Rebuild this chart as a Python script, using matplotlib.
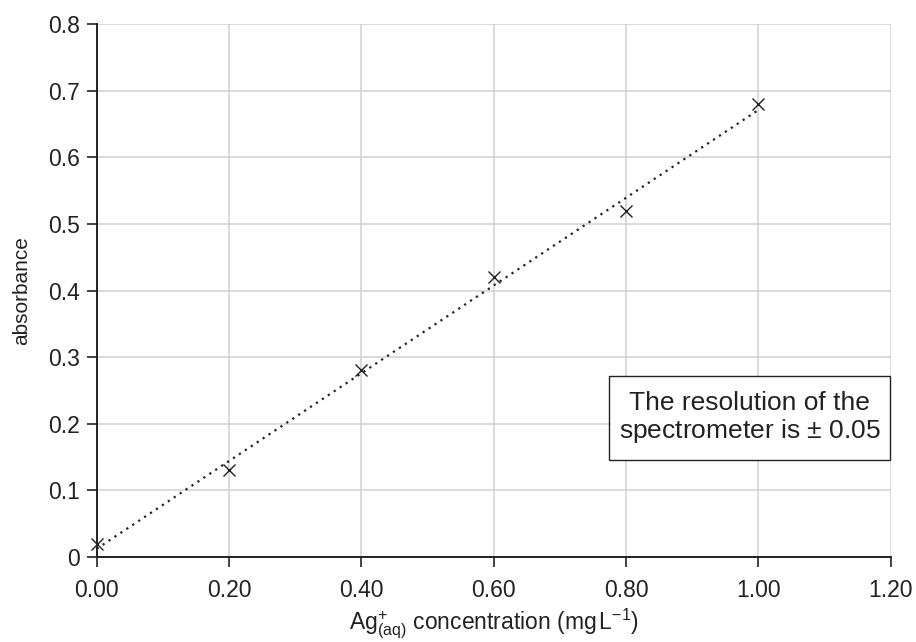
import numpy as np
import matplotlib
matplotlib.use("Agg")
import matplotlib.pyplot as plt
from matplotlib.patches import Rectangle

# Kalibrierdaten
conc = [0.00, 0.20, 0.40, 0.60, 0.80, 1.00]
absorb = [0.02, 0.13, 0.28, 0.42, 0.52, 0.68]
x_ticks = [0.0, 0.2, 0.4, 0.6, 0.8, 1.0, 1.2]
x_labels = ["0.00", "0.20", "0.40", "0.60", "0.80", "1.00", "1.20"]
y_ticks = [0, 0.1, 0.2, 0.3, 0.4, 0.5, 0.6, 0.7, 0.8]
y_labels = ["0", "0.1", "0.2", "0.3", "0.4", "0.5", "0.6", "0.7", "0.8"]

plt.rcParams["font.family"] = ["Liberation Sans", "DejaVu Sans"]
plt.rcParams["mathtext.fontset"] = "custom"
plt.rcParams["mathtext.rm"] = "Liberation Sans"
plt.rcParams["mathtext.it"] = "Liberation Sans:italic"

fig = plt.figure(figsize=(9.16, 6.42), dpi=100)
ax = fig.add_axes([0.1056, 0.1324, 0.8668, 0.8302])

# Trendlinie (lineare Regression)
slope, icpt = np.polyfit(conc, absorb, 1)
xl = np.array([conc[0], conc[-1]])
ax.plot(xl, slope * xl + icpt, linestyle=(0, (1, 2.2)), color="#222222", linewidth=1.6)

ax.plot(conc, absorb, linestyle="none", marker="x", markersize=9,
        markeredgewidth=1.0, color="#222222", clip_on=False, zorder=5)

ax.set_xlim(0, 1.2)
ax.set_ylim(0, 0.8)
ax.set_xticks(x_ticks)
ax.set_xticklabels(x_labels)
ax.set_yticks(y_ticks)
ax.set_yticklabels(y_labels)
ax.tick_params(labelsize=16.5, colors="#222222", length=7, width=1.2, direction="out")
ax.tick_params(axis="x", pad=9)
ax.tick_params(axis="y", pad=5)

ax.grid(True, color="#d4d4d4", linewidth=1.2)
ax.set_axisbelow(True)
for s in ["top", "right"]:
    ax.spines[s].set_visible(False)
for s in ["left", "bottom"]:
    ax.spines[s].set_linewidth(1.4)
    ax.spines[s].set_color("#222222")

ax.set_xlabel(r"Ag$^{+}_{\rm (aq)}$ concentration (mg$\,$L$^{-1}$)", fontsize=16.5,
              color="#222222", labelpad=3)
ax.set_ylabel("absorbance", fontsize=15, color="#222222", labelpad=12)

# Hinweisbox
ax.add_patch(Rectangle((0.6453, 0.182), 0.354, 0.1576, transform=ax.transAxes,
                       facecolor="white", edgecolor="#222222", linewidth=1.0,
                       zorder=6, clip_on=False))
ax.text(0.8225, 0.2608, "The resolution of the\nspectrometer is $\\pm$ 0.05",
        transform=ax.transAxes, ha="center", va="center", fontsize=19,
        color="#222222", linespacing=1.1, zorder=7)

plt.savefig("out.png", dpi=100)
